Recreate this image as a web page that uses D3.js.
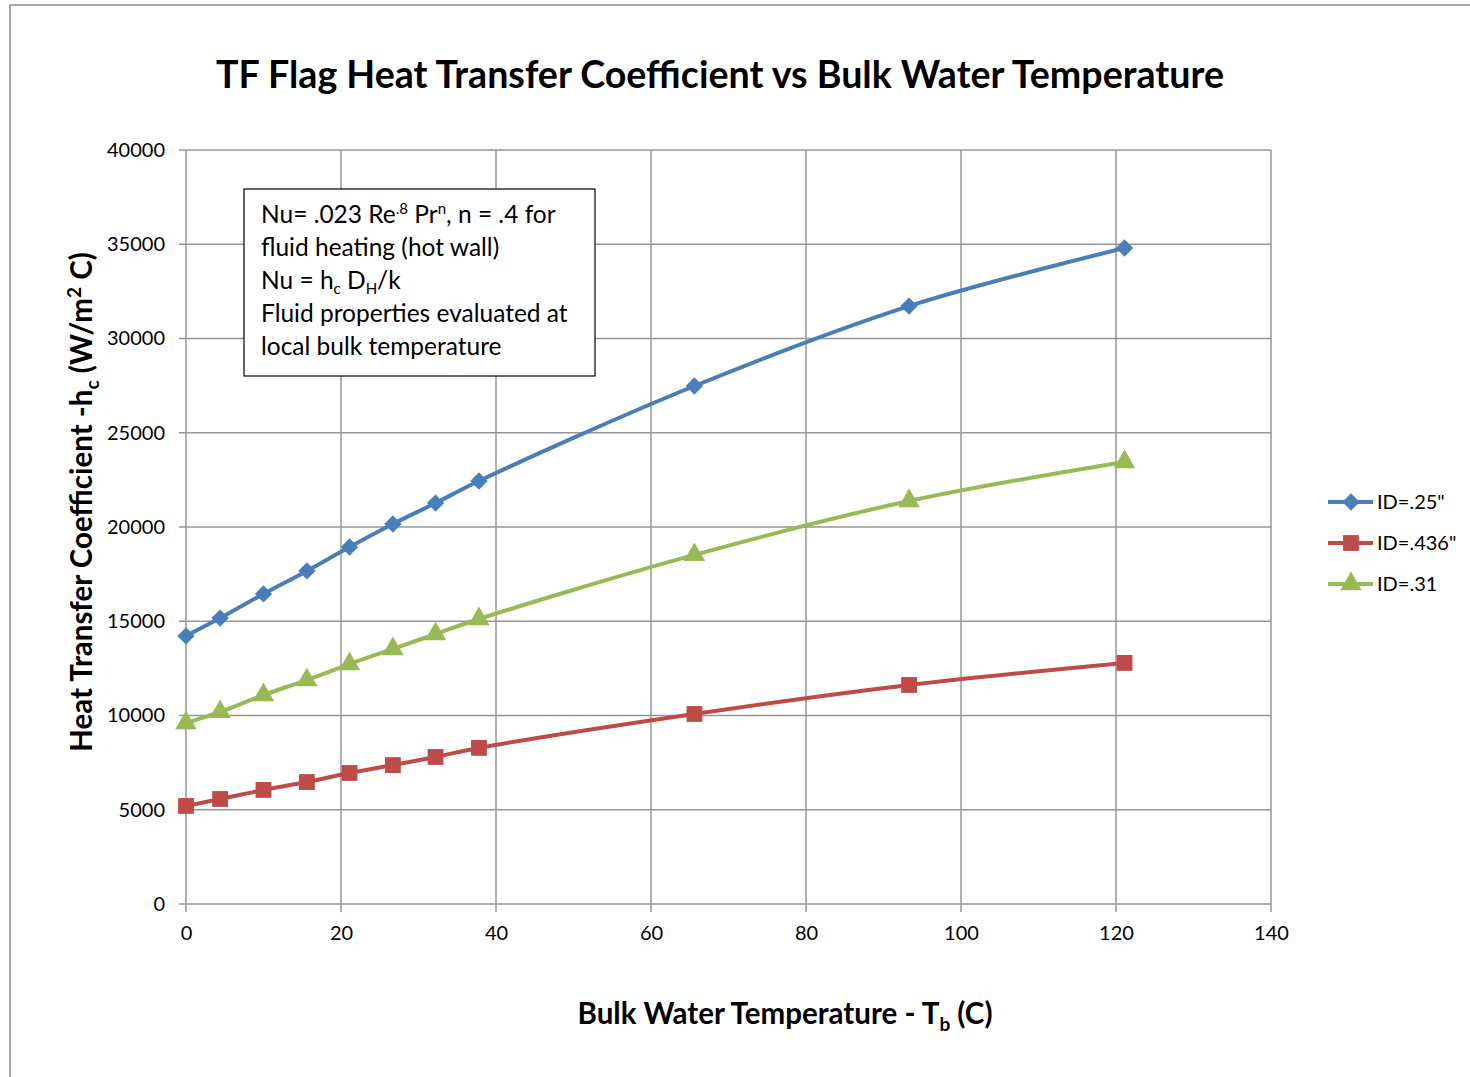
<!DOCTYPE html>
<html>
<head>
<meta charset="utf-8">
<script src="https://cdn.jsdelivr.net/npm/d3@7"></script>
<style>
  body { margin: 0; background: #fff; }
  svg { font-family: Lato, "Open Sans", sans-serif; }
</style>
</head>
<body>
<svg id="chart" width="1470" height="1077"></svg>
<script>
// data (bulk water temperature, C)
const temps   = [0, 4.4, 10, 15.6, 21.1, 26.7, 32.2, 37.8, 65.6, 93.3, 121.1];
const id25    = [14220, 15170, 16450, 17670, 18940, 20160, 21270, 22440, 27480, 31720, 34800];
const id436   = [5200, 5570, 6050, 6470, 6950, 7370, 7800, 8280, 10080, 11620, 12790];
const id31    = [9600, 10190, 11090, 11880, 12730, 13530, 14320, 15120, 18520, 21380, 23450];
const seriesNames = ['ID=.25"', 'ID=.436"', 'ID=.31'];
const xTicks  = [0, 20, 40, 60, 80, 100, 120, 140];
const yTicks  = [0, 5000, 10000, 15000, 20000, 25000, 30000, 35000, 40000];

const series = [
  { name: seriesNames[0], values: id25,  color: "#4A7EBB", symbol: "diamond" },
  { name: seriesNames[1], values: id436, color: "#BE4B48", symbol: "square" },
  { name: seriesNames[2], values: id31,  color: "#98B954", symbol: "triangle" }
];

const svg = d3.select("#chart");

// outer chart frame
svg.append("rect")
  .attr("x", 10).attr("y", 5)
  .attr("width", 1500).attr("height", 1100)
  .attr("fill", "#fff")
  .attr("stroke", "#8c8c8c")
  .attr("stroke-width", 1.5);

const plot = { left: 186, right: 1271, top: 150, bottom: 904 };

const x = d3.scaleLinear().domain([0, 140]).range([plot.left, plot.right]);
const y = d3.scaleLinear().domain([0, 40000]).range([plot.bottom, plot.top]);

// gridlines
const grid = svg.append("g").attr("stroke", "#969696").attr("stroke-width", 1.5);
grid.selectAll("line.v").data(xTicks).join("line")
  .attr("x1", d => x(d)).attr("x2", d => x(d))
  .attr("y1", plot.top).attr("y2", plot.bottom + 8);
grid.selectAll("line.h").data(yTicks).join("line")
  .attr("x1", plot.left - 7).attr("x2", plot.right)
  .attr("y1", d => y(d)).attr("y2", d => y(d));

// axes labels
const xAxis = d3.axisBottom(x).tickValues(xTicks).tickSize(0).tickPadding(22);
svg.append("g")
  .attr("transform", `translate(0,${plot.bottom})`)
  .call(xAxis)
  .call(g => g.select(".domain").remove())
  .call(g => g.selectAll("text").attr("font-size", 20).attr("fill", "#000").attr("font-family", "Lato, sans-serif"));

const yAxis = d3.axisLeft(y).tickValues(yTicks).tickFormat(d3.format("d")).tickSize(0).tickPadding(21);
svg.append("g")
  .attr("transform", `translate(${plot.left},0)`)
  .call(yAxis)
  .call(g => g.select(".domain").remove())
  .call(g => g.selectAll("text").attr("font-size", 20).attr("fill", "#000").attr("font-family", "Lato, sans-serif"));

// lines
const line = d3.line()
  .x((d, i) => x(temps[i]))
  .y(d => y(d))
  .curve(d3.curveCatmullRom.alpha(0.5));

const symbolTypes = { diamond: d3.symbolSquare, square: d3.symbolSquare, triangle: d3.symbolTriangle };
const symbolSizes = { diamond: 150, square: 250, triangle: 200 };
const symbolRot   = { diamond: 45, square: 0, triangle: 0 };

series.forEach(s => {
  svg.append("path")
    .datum(s.values)
    .attr("d", line)
    .attr("fill", "none")
    .attr("stroke", s.color)
    .attr("stroke-width", 4);

  svg.append("g").selectAll("path")
    .data(s.values)
    .join("path")
      .attr("transform", (d, i) => `translate(${x(temps[i])},${y(d)}) rotate(${symbolRot[s.symbol]})`)
      .attr("d", d3.symbol().type(symbolTypes[s.symbol]).size(symbolSizes[s.symbol]))
      .attr("fill", s.color);
});

// annotation box
const note = svg.append("g");
note.append("rect")
  .attr("x", 244).attr("y", 189)
  .attr("width", 351).attr("height", 187)
  .attr("fill", "#fff")
  .attr("stroke", "#000")
  .attr("stroke-width", 1.2);

const noteText = note.append("text")
  .attr("x", 261)
  .attr("font-size", 24.5)
  .attr("fill", "#000");

const l1 = noteText.append("tspan").attr("x", 261).attr("y", 223);
l1.append("tspan").text("Nu= .023 Re");
l1.append("tspan").attr("font-size", 15).attr("dy", -9).text(".8");
l1.append("tspan").attr("dy", 9).text(" Pr");
l1.append("tspan").attr("font-size", 15).attr("dy", -9).text("n");
l1.append("tspan").attr("dy", 9).text(", n = .4 for");

noteText.append("tspan").attr("x", 261).attr("y", 256).text("fluid heating (hot wall)");

const l3 = noteText.append("tspan").attr("x", 261).attr("y", 289);
l3.append("tspan").text("Nu = h");
l3.append("tspan").attr("font-size", 15).attr("dy", 5).text("c");
l3.append("tspan").attr("dy", -5).text(" D");
l3.append("tspan").attr("font-size", 15).attr("dy", 5).text("H");
l3.append("tspan").attr("dy", -5).text("/k");

noteText.append("tspan").attr("x", 261).attr("y", 322).text("Fluid properties evaluated at");
noteText.append("tspan").attr("x", 261).attr("y", 355).text("local bulk temperature");

// legend
const legend = svg.append("g").attr("transform", "translate(1328,502)");
series.forEach((s, i) => {
  const row = legend.append("g").attr("transform", `translate(0,${i * 41})`);
  row.append("line")
    .attr("x1", 0).attr("x2", 45)
    .attr("stroke", s.color).attr("stroke-width", 4);
  row.append("path")
    .attr("transform", `translate(23,0) rotate(${symbolRot[s.symbol]})`)
    .attr("d", d3.symbol().type(symbolTypes[s.symbol]).size(symbolSizes[s.symbol]))
    .attr("fill", s.color);
  row.append("text")
    .attr("x", 49).attr("y", 7)
    .attr("font-size", 20)
    .text(s.name);
});

// title
svg.append("text")
  .attr("x", 720).attr("y", 88)
  .attr("text-anchor", "middle")
  .attr("font-size", 37.6)
  .attr("font-weight", "bold")
  .text("TF Flag Heat Transfer Coefficient vs Bulk Water Temperature");

// x axis title
const xt = svg.append("text")
  .attr("x", 785).attr("y", 1024)
  .attr("text-anchor", "middle")
  .attr("font-size", 29.5)
  .attr("font-weight", "bold");
xt.append("tspan").text("Bulk Water Temperature - T");
xt.append("tspan").attr("font-size", 19).attr("dy", 7).text("b");
xt.append("tspan").attr("dy", -7).text(" (C)");

// y axis title
const yt = svg.append("text")
  .attr("transform", "translate(92,502) rotate(-90)")
  .attr("text-anchor", "middle")
  .attr("font-size", 29.5)
  .attr("font-weight", "bold");
yt.append("tspan").text("Heat Transfer Coefficient -h");
yt.append("tspan").attr("font-size", 19).attr("dy", 7).text("c");
yt.append("tspan").attr("dy", -7).text(" (W/m");
yt.append("tspan").attr("font-size", 19).attr("dy", -11).text("2");
yt.append("tspan").attr("dy", 11).text(" C)");
</script>
</body>
</html>
